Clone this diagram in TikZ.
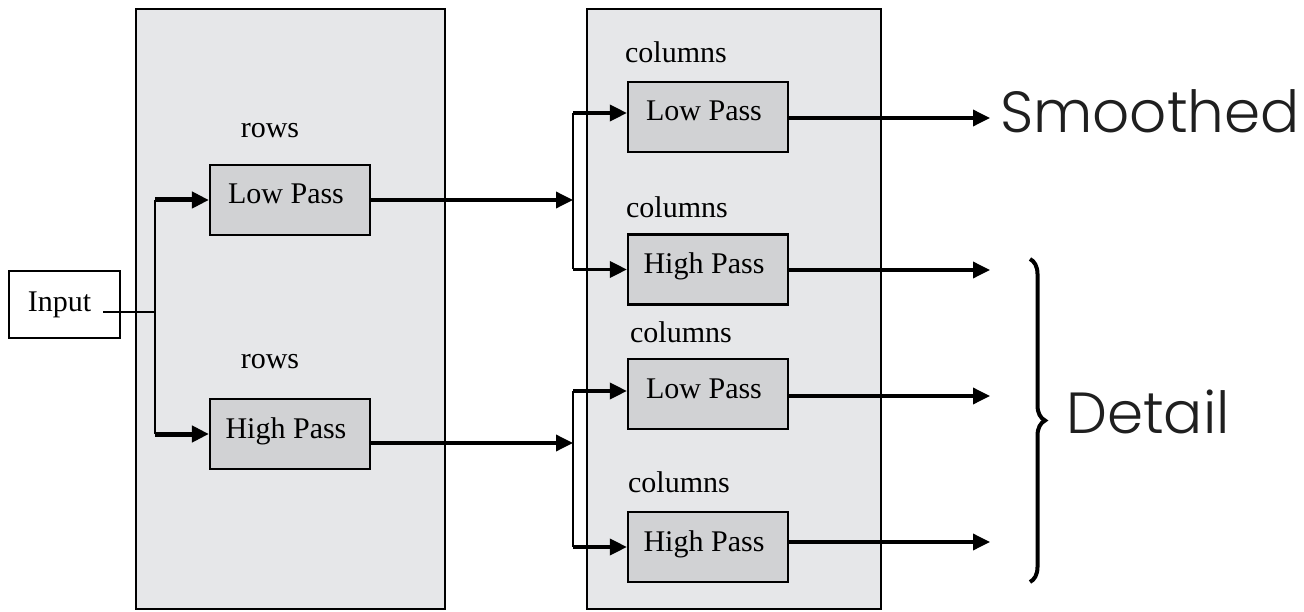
\documentclass[tikz,border=0pt]{standalone}
\usepackage{fontspec}
\setmainfont{Liberation Serif}
\newfontfamily\gothic{Poppins Light}
\usetikzlibrary{arrows.meta,decorations.pathreplacing,calc}
\definecolor{stagefill}{RGB}{230,231,233}
\definecolor{filterfill}{RGB}{209,210,212}
\tikzset{
  stagebox/.style={draw=black, line width=2pt, fill=stagefill, anchor=north west, inner sep=0pt},
  filterbox/.style={draw=black, line width=2.2pt, fill=filterfill, minimum width=160pt, minimum height=70pt, inner sep=0pt,
    text height=22pt, text depth=14pt, font=\fontsize{30}{34}\selectfont},
  inbox/.style={draw=black, line width=2pt, fill=white, minimum width=111pt, minimum height=67pt, inner sep=0pt,
    font=\fontsize{30}{34}\selectfont},
  tag/.style={inner sep=0pt, font=\fontsize{30}{34}\selectfont},
  bigtag/.style={inner sep=0pt, anchor=west, font=\gothic\fontsize{58}{64}\selectfont, text=black!88},
  wire/.style={line width=2pt},
  feed/.style={line width=5pt, -{Triangle[length=17pt,width=16pt]}},
  flow/.style={line width=3.5pt, -{Triangle[length=17pt,width=16pt]}},
}
\begin{document}
\begin{tikzpicture}[x=1pt,y=-1pt]
\useasboundingbox (0,0) rectangle (1304,612);

% two processing stages
\node[stagebox, minimum width=309pt, minimum height=600pt] (stageA) at (135,8) {};
\node[stagebox, minimum width=294pt, minimum height=600pt] (stageB) at (586,8) {};

% input
\node[inbox] (input) at (64.5,304.5) {Input\kern10pt};

% row filters
\node[tag] (rowsA) at (270,131) {rows};
\node[filterbox] (rLP) at (290,200) {Low Pass\kern8pt};
\node[tag] (rowsB) at (270,362) {rows};
\node[filterbox] (rHP) at (290,434) {High Pass\kern8pt};

% column filters
\node[tag] (colA) at (676,52) {columns};
\node[filterbox] (cLPa) at (708,117) {Low Pass\kern8pt};
\node[tag] (colB) at (677,207) {columns};
\node[filterbox] (cHPa) at (708,269.5) {High Pass\kern8pt};
\node[tag] (colC) at (681,332) {columns};
\node[filterbox] (cLPb) at (708,394) {Low Pass\kern8pt};
\node[tag] (colD) at (679,482) {columns};
\node[filterbox] (cHPb) at (708,547) {High Pass\kern8pt};

% split after the input
\coordinate (inTap) at (103,312);
\coordinate (splitA) at (155,312);
\draw[wire] (inTap) -- (splitA);
\draw[wire] (splitA |- rLP.west) -- (splitA |- rHP.west);
\draw[feed] (splitA |- rLP.west) -- (rLP.west);
\draw[feed] (splitA |- rHP.west) -- (rHP.west);

% from the low-pass rows to the first pair of column filters
\coordinate (splitB) at (573,200);
\coordinate (tapA) at (573,113);
\draw[flow] (rLP.east) -- (splitB);
\draw[wire] (tapA) -- (splitB |- cHPa.west);
\draw[flow] (tapA) -- (cLPa.west |- tapA);
\draw[flow] (splitB |- cHPa.west) -- (cHPa.west);

% from the high-pass rows to the second pair of column filters
\coordinate (splitC) at (573,443);
\coordinate (tapB) at (573,391);
\draw[flow] (rHP.east |- splitC) -- (splitC);
\draw[wire] (tapB) -- (splitC |- cHPb.west);
\draw[flow] (tapB) -- (cLPb.west |- tapB);
\draw[flow] (splitC |- cHPb.west) -- (cHPb.west);

% outputs
\coordinate (outA) at (990,118);
\coordinate (outB) at (990,270);
\coordinate (outC) at (990,396);
\coordinate (outD) at (990,542);
\draw[flow] (cLPa.east |- outA) -- (outA);
\draw[flow] (cHPa.east |- outB) -- (outB);
\draw[flow] (cLPb.east |- outC) -- (outC);
\draw[flow] (cHPb.east |- outD) -- (outD);

\node[bigtag] (smooth) at (1000,111) {Smoothed};
\coordinate (braceTop) at (1030,259);
\coordinate (braceBot) at (1030,582);
\draw[line width=4pt, decorate, decoration={brace, amplitude=15pt}] (braceTop) -- (braceBot);
\node[bigtag] (detail) at (1066,412) {Detail};
\end{tikzpicture}
\end{document}
